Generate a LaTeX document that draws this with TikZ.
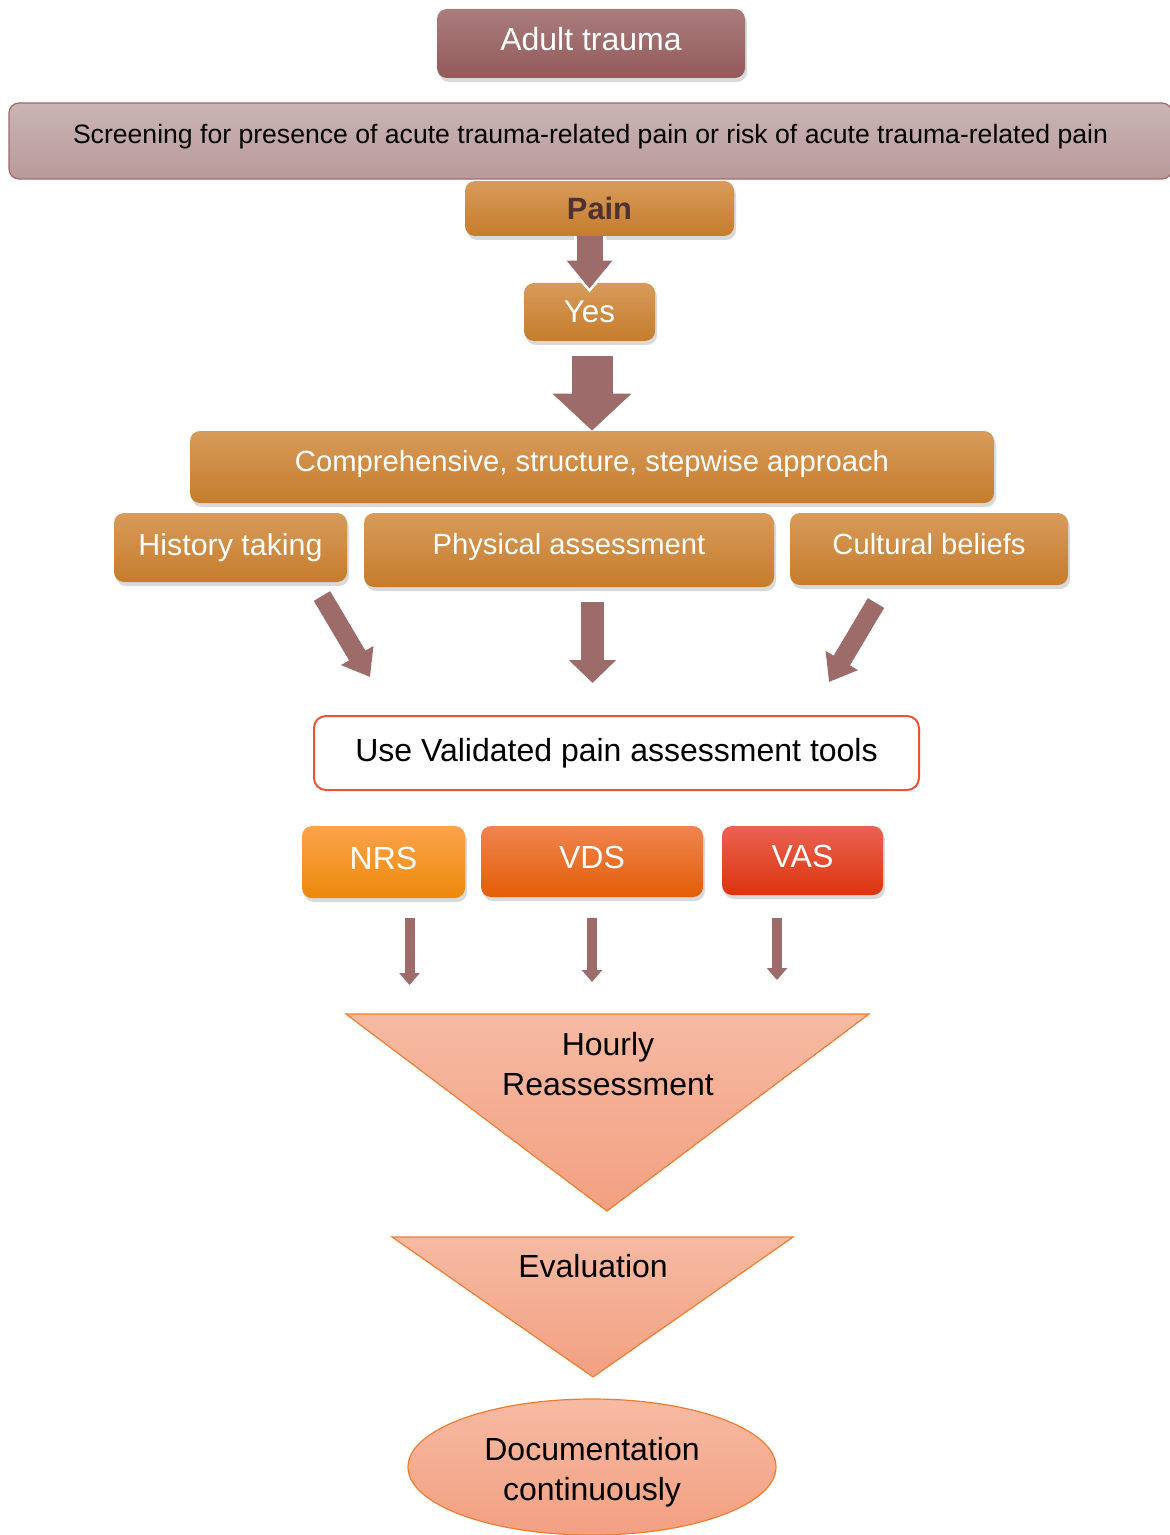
\documentclass[tikz,border=0pt]{standalone}
\usepackage{fontspec}
\setmainfont{Liberation Sans}
\usetikzlibrary{arrows.meta,shapes.geometric,shadows}

\definecolor{mauveTop}{HTML}{A97C7C}
\definecolor{mauveBot}{HTML}{935A5A}
\definecolor{paleTop}{HTML}{CAB4B4}
\definecolor{paleBot}{HTML}{B99A9B}
\definecolor{paleLine}{HTML}{A06A6A}
\definecolor{amberTop}{HTML}{D79B5A}
\definecolor{amberBot}{HTML}{C67C2C}
\definecolor{arrowC}{HTML}{9E6B6B}
\definecolor{toolRed}{HTML}{E8543A}
\definecolor{nrsTop}{HTML}{FBA34C}
\definecolor{nrsBot}{HTML}{EC890A}
\definecolor{vdsTop}{HTML}{EF8550}
\definecolor{vdsBot}{HTML}{E35D06}
\definecolor{vasTop}{HTML}{EA6252}
\definecolor{vasBot}{HTML}{DC340E}
\definecolor{peachTop}{HTML}{F6BAA3}
\definecolor{peachBot}{HTML}{F3A081}
\definecolor{peachLine}{HTML}{F07D2E}
\definecolor{painText}{HTML}{4E3232}

\begin{document}
\begin{tikzpicture}[x=0.5pt,y=-0.5pt,
  shade/.style={drop shadow={opacity=0.3,shadow xshift=1pt,shadow yshift=-2pt}},
  mauve/.style={rounded corners=5pt, top color=mauveTop, bottom color=mauveBot, shade, text=white, font=\fontsize{16}{19}\selectfont},
  amber/.style={rounded corners=5pt, top color=amberTop, bottom color=amberBot, shade, text=white, font=\fontsize{14.6}{17}\selectfont},
  scale3/.style={rounded corners=5pt, top color=#1Top, bottom color=#1Bot, shade, text=white, font=\fontsize{16}{19}\selectfont, text depth=4pt},
  peach/.style={top color=peachTop, bottom color=peachBot, draw=peachLine, line width=0.6pt},
  lbl/.style={align=center, font=\fontsize{16}{20}\selectfont},
  blk/.style n args={3}{draw=arrowC, line width=#1, -{Triangle[width=#2,length=#3]}}
]
\useasboundingbox (0,0) rectangle (1170,1535);

% top of the chart
\node[mauve, minimum width=154pt, minimum height=34.5pt, text depth=4.5pt] (adult) at (591,43.5) {Adult trauma};
\node[rounded corners=5pt, top color=paleTop, bottom color=paleBot, draw=paleLine, line width=0.6pt,
      minimum width=581.5pt, minimum height=38pt, text depth=7pt, font=\fontsize{13.3}{16}\selectfont]
  (screen) at (590.5,141) {Screening for presence of acute trauma-related pain or risk of acute trauma-related pain};
\node[amber, minimum width=134.5pt, minimum height=27.5pt, text=painText, font=\fontsize{15.4}{18}\bfseries] (pain) at (599.5,208.5) {Pain};
\node[amber, minimum width=65.5pt, minimum height=29pt, font=\fontsize{15.7}{18}\selectfont] (yes) at (589.5,312) {Yes};

\draw[blk={16pt}{28pt}{17pt}, draw=white, shorten >=-5pt] (yes.north |- pain.south) -- (yes.north);
\draw[blk={13pt}{22pt}{14pt}, shorten >=-3pt] (yes.north |- pain.south) -- (yes.north);

\node[amber, minimum width=402pt, minimum height=36pt, text depth=6pt] (comp) at (592,467) {Comprehensive, structure, stepwise approach};
\draw[blk={20.5pt}{38.5pt}{18.5pt}, shorten <=7.5pt] (comp.north |- yes.south) -- (comp.north);

% three parts of the approach
\node[amber, minimum width=116.5pt, minimum height=34.5pt, font=\fontsize{15.2}{18}\selectfont] (hist) at (230.5,547.5) {History taking};
\node[amber, minimum width=205pt, minimum height=37pt, text depth=6pt] (phys) at (569,550) {Physical assessment};
\node[amber, minimum width=139pt, minimum height=36pt, text depth=5pt] (cult) at (929,549) {Cultural beliefs};

\coordinate (hTail) at (322,596);
\coordinate (hTip) at (370,677);
\coordinate (pTail) at (592.5,602);
\coordinate (pTip) at (592.5,683);
\coordinate (cTail) at (876,603);
\coordinate (cTip) at (829,682);
\draw[blk={9.5pt}{18pt}{12.5pt}] (hTail) -- (hTip);
\draw[blk={11.5pt}{23pt}{11.5pt}] (pTail) -- (pTip);
\draw[blk={9.5pt}{18pt}{12.5pt}] (cTail) -- (cTip);

% tools
\node[draw=toolRed, line width=1pt, rounded corners=6pt, fill=white, minimum width=302.5pt, minimum height=37pt,
      font=\fontsize{16}{19}\selectfont] (tools) at (616.5,753) {Use Validated pain assessment tools};
\node[scale3=nrs, minimum width=81.5pt, minimum height=36pt] (nrs) at (383.5,862) {NRS};
\node[scale3=vds, minimum width=111pt, minimum height=35.5pt] (vds) at (592,861.5) {VDS};
\node[scale3=vas, minimum width=80.5pt, minimum height=34.5pt] (vas) at (802.5,860.5) {VAS};

\coordinate (nTail) at (409.5,918);
\coordinate (nTip) at (409.5,985);
\coordinate (vTail) at (592,918);
\coordinate (vTip) at (592,982);
\coordinate (aTail) at (777,918);
\coordinate (aTip) at (777,980);
\draw[blk={5pt}{10pt}{6pt}] (nTail) -- (nTip);
\draw[blk={5pt}{10pt}{6pt}] (vTail) -- (vTip);
\draw[blk={5pt}{10pt}{6pt}] (aTail) -- (aTip);

% funnel
\path[peach] (346,1014) -- (869,1014) -- (607,1211) -- cycle;
\node[lbl] (hourly) at (608,1064) {Hourly\\Reassessment};
\path[peach] (392,1237) -- (793,1237) -- (593,1377) -- cycle;
\node[lbl] (eval) at (593,1266) {Evaluation};
\node[ellipse, peach, minimum width=184pt, minimum height=68pt, lbl, text height=36.5pt] (doc) at (592,1467) {Documentation\\continuously};
\end{tikzpicture}
\end{document}
